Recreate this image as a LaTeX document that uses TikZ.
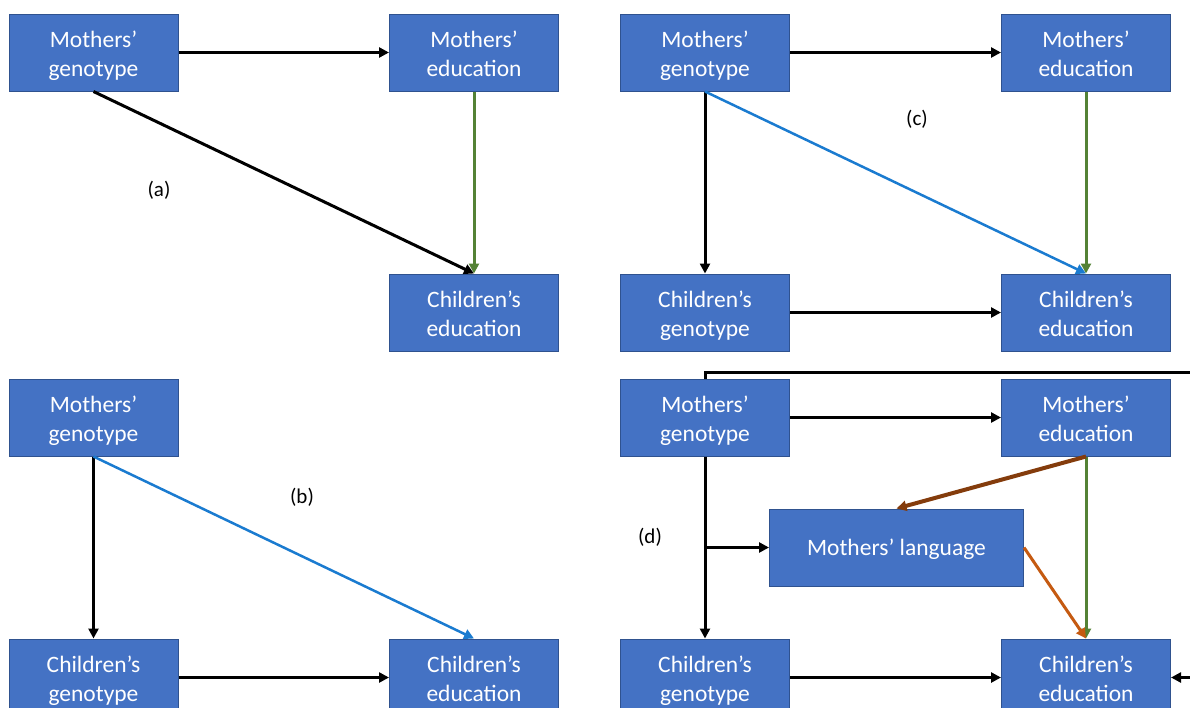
\documentclass[tikz,border=0pt]{standalone}
\usepackage{fontspec}
\setmainfont{Carlito}
\usepackage{xcolor}
\usepackage{tikz}
\usetikzlibrary{arrows.meta,positioning,calc}

\definecolor{boxblue}{HTML}{4472C4}
\definecolor{boxedge}{HTML}{2F528F}
\definecolor{linkblue}{HTML}{1A7BD0}
\definecolor{linkgreen}{HTML}{548235}
\definecolor{linkbrown}{HTML}{843C0C}
\definecolor{linkorange}{HTML}{C55A11}

\newcommand{\boxstrut}{\rule[-4.5pt]{0pt}{28.5pt}}
\newcommand{\twoline}[2]{\boxstrut #1\\#2\boxstrut}

\tikzset{
  var/.style={draw=boxedge, line width=1pt, fill=boxblue, text=white,
    minimum width=169pt, minimum height=77pt, inner sep=0pt, align=center,
    font=\fontsize{23.5}{29}\selectfont},
  link/.style={->, line width=3pt, black},
  panel/.style={font=\fontsize{21}{25}\selectfont}
}

\begin{document}
\begin{tikzpicture}[x=1pt, y=-1pt, >={Triangle[length=10pt,width=10pt]}]
  \useasboundingbox (0,0) rectangle (1190,707);
  \clip (0,0) rectangle (1190,707);
  % column positions
  \def\colL{93.5}
  \def\colR{474}
  \def\colLL{705}
  \def\colRR{1086}

  % (a)
  \node[var] (mgA) at (\colL,52.5) {\twoline{Mothers'}{genotype}};
  \node[var] (meA) at (\colR,52.5) {\twoline{Mothers'}{education}};
  \node[var] (ceA) at (\colR,312.5) {\twoline{Children's}{education}};
  \node[panel] (labA) at (159,190) {(a)};
  \draw[link] (mgA) -- (meA);
  \draw[link] (mgA.south) -- (ceA.north);
  \draw[link, linkgreen] (meA) -- (ceA);

  % (b)
  \node[var] (mgB) at (\colL,417.5) {\twoline{Mothers'}{genotype}};
  \node[var] (cgB) at (\colL,677.5) {\twoline{Children's}{genotype}};
  \node[var] (ceB) at (\colR,677.5) {\twoline{Children's}{education}};
  \node[panel] (labB) at (302,497) {(b)};
  \draw[link] (mgB) -- (cgB);
  \draw[link] (cgB) -- (ceB);
  \draw[link, linkblue, line width=2.5pt] (mgB.south) -- (ceB.north);

  % (c)
  \node[var] (mgC) at (\colLL,52.5) {\twoline{Mothers'}{genotype}};
  \node[var] (meC) at (\colRR,52.5) {\twoline{Mothers'}{education}};
  \node[var] (cgC) at (\colLL,312.5) {\twoline{Children's}{genotype}};
  \node[var] (ceC) at (\colRR,312.5) {\twoline{Children's}{education}};
  \node[panel] (labC) at (917,119) {(c)};
  \draw[link] (mgC) -- (meC);
  \draw[link] (mgC) -- (cgC);
  \draw[link] (cgC) -- (ceC);
  \draw[link, linkblue, line width=2.5pt] (mgC.south) -- (ceC.north);
  \draw[link, linkgreen] (meC) -- (ceC);

  % (d)
  \node[var] (mgD) at (\colLL,417.5) {\twoline{Mothers'}{genotype}};
  \node[var] (meD) at (\colRR,417.5) {\twoline{Mothers'}{education}};
  \node[var, minimum width=254pt] (mlD) at (896.5,547.5) {\rule[-6.4pt]{0pt}{28.4pt}Mothers' language};
  \node[var] (cgD) at (\colLL,677.5) {\twoline{Children's}{genotype}};
  \node[var] (ceD) at (\colRR,677.5) {\twoline{Children's}{education}};
  \node[panel] (labD) at (650,537) {(d)};
  \coordinate (branch) at (mgD.south |- mlD.west);
  \coordinate (outTop) at (1200,372);
  \coordinate (outRight) at (1200,677.5);
  \draw[link] (mgD) -- (meD);
  \draw[link] (mgD) -- (cgD);
  \draw[link] (branch) -- (mlD);
  \draw[link] (cgD) -- (ceD);
  \draw[line width=3pt] (mgD.north) |- (outTop);
  \draw[link] (outRight) -- (ceD);
  \draw[link, linkgreen] (meD) -- (ceD);
  \draw[link, linkbrown, line width=4pt] (meD.south) -- (mlD.north);
  \draw[link, linkorange] (mlD.east) -- (ceD.north);
\end{tikzpicture}
\end{document}
